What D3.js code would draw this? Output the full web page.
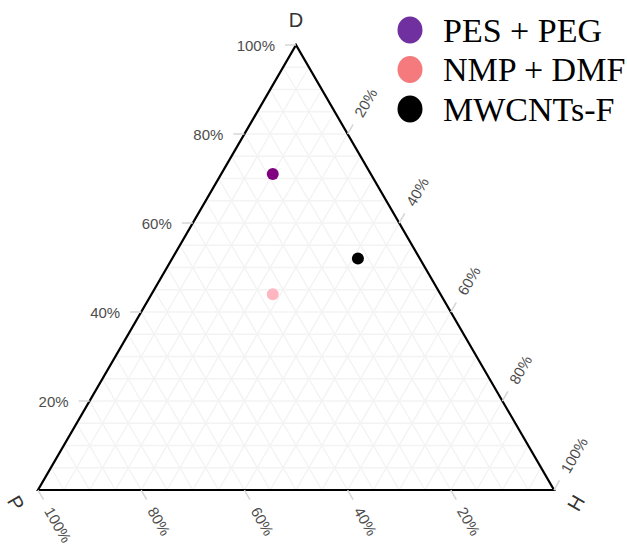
<!DOCTYPE html>
<html>
<head>
<meta charset="utf-8">
<script src="https://cdn.jsdelivr.net/npm/d3@7"></script>
<style>
  body { margin: 0; background: #fff; }
  svg { display: block; }
</style>
</head>
<body>
<svg id="chart" width="627" height="547"></svg>
<script>
// composition of each sample (P, H, D fractions)
const seriesNames = ["PES + PEG", "NMP + DMF", "MWCNTs-F"];
const pValues = [0.19, 0.325, 0.12];
const hValues = [0.10, 0.235, 0.36];
const dValues = [0.71, 0.44, 0.52];
const pointColors = ["#800080", "#ffb6c1", "#000000"];
const legendColors = ["#7030a0", "#f47a7e", "#000000"];

const tickValues = [0.2, 0.4, 0.6, 0.8, 1.0];
const tickLabels = ["20%", "40%", "60%", "80%", "100%"];
const gridValues = d3.range(1, 20).map(i => i / 20);

// cartesian position from ternary coords
const x = d3.scaleLinear().domain([0, 1]).range([38, 554]);
const y = d3.scaleLinear().domain([0, 1]).range([490, 45]);
function pos(p, h, d) {
  return [x(h + d / 2), y(d)];
}

const svg = d3.select("#chart");
const labelColor = "#4d4d4d";
const tickLen = 11, labelGap = 21;

// grid
const grid = svg.append("g")
  .attr("stroke", "#f3f3f3")
  .attr("stroke-width", 1.4)
  .attr("fill", "none");

function gridLine(a, b) {
  grid.append("line")
    .attr("x1", a[0]).attr("y1", a[1])
    .attr("x2", b[0]).attr("y2", b[1]);
}
gridValues.forEach(v => {
  gridLine(pos(1 - v, 0, v), pos(0, 1 - v, v));   // D constant
  gridLine(pos(v, 1 - v, 0), pos(v, 0, 1 - v));   // P constant
  gridLine(pos(1 - v, v, 0), pos(0, v, 1 - v));   // H constant
});

// triangle border
const corners = [pos(1, 0, 0), pos(0, 1, 0), pos(0, 0, 1)];
svg.append("path")
  .attr("d", d3.line()(corners) + "Z")
  .attr("fill", "none")
  .attr("stroke", "#000")
  .attr("stroke-width", 2.2)
  .attr("stroke-linejoin", "miter");

// axes: ticks + labels
const axes = [
  { // D on left edge, ticks point left
    at: v => pos(1 - v, 0, v), dir: [-1, 0], rot: 0, anchor: "end"
  },
  { // P on bottom edge, ticks point down-right
    at: v => pos(v, 1 - v, 0), dir: [0.5, 0.866], rot: 60, anchor: "start"
  },
  { // H on right edge, ticks point up-right
    at: v => pos(0, v, 1 - v), dir: [0.5, -0.866], rot: -60, anchor: "start"
  }
];

const axisG = svg.append("g");
axes.forEach(ax => {
  tickValues.forEach((v, i) => {
    const b = ax.at(v);
    axisG.append("line")
      .attr("x1", b[0]).attr("y1", b[1])
      .attr("x2", b[0] + ax.dir[0] * tickLen)
      .attr("y2", b[1] + ax.dir[1] * tickLen)
      .attr("stroke", "#d6d6d6")
      .attr("stroke-width", 1.5);
    const lx = b[0] + ax.dir[0] * labelGap;
    const ly = b[1] + ax.dir[1] * labelGap;
    axisG.append("text")
      .attr("transform", `translate(${lx},${ly}) rotate(${ax.rot})`)
      .attr("text-anchor", ax.anchor)
      .attr("dominant-baseline", "central")
      .attr("font-family", "Liberation Sans, Arial, sans-serif")
      .attr("font-size", 15)
      .attr("fill", labelColor)
      .text(tickLabels[i]);
  });
});

// vertex titles
const titles = [
  { text: "D", x: 296, y: 20, rot: 0 },
  { text: "P", x: 16, y: 503, rot: 60 },
  { text: "H", x: 576, y: 503, rot: -60 }
];
svg.append("g").selectAll("text")
  .data(titles)
  .enter().append("text")
  .attr("transform", d => `translate(${d.x},${d.y}) rotate(${d.rot})`)
  .attr("text-anchor", "middle")
  .attr("dominant-baseline", "central")
  .attr("font-family", "Liberation Sans, Arial, sans-serif")
  .attr("font-size", 20)
  .attr("fill", "#333")
  .text(d => d.text);

// points
svg.append("g").selectAll("circle")
  .data(seriesNames)
  .enter().append("circle")
  .attr("cx", (d, i) => pos(pValues[i], hValues[i], dValues[i])[0])
  .attr("cy", (d, i) => pos(pValues[i], hValues[i], dValues[i])[1])
  .attr("r", 6)
  .attr("fill", (d, i) => pointColors[i]);

// legend
const legend = svg.append("g")
  .selectAll("g")
  .data(seriesNames)
  .enter().append("g")
  .attr("transform", (d, i) => `translate(410,${30 + i * 39.5})`);

legend.append("ellipse")
  .attr("rx", 12.5)
  .attr("ry", 13.5)
  .attr("fill", (d, i) => legendColors[i]);

legend.append("text")
  .attr("x", 33)
  .attr("y", 11.5)
  .attr("font-family", "Liberation Serif, Times New Roman, serif")
  .attr("font-size", 34)
  .attr("fill", "#000")
  .text(d => d);
</script>
</body>
</html>
